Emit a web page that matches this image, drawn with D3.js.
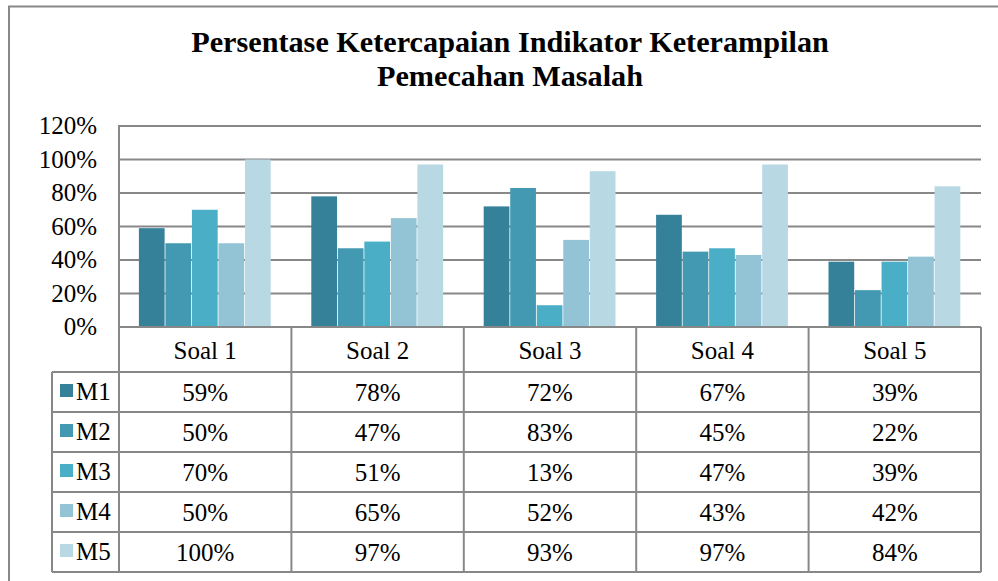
<!DOCTYPE html>
<html><head><meta charset="utf-8">
<script src="https://cdn.jsdelivr.net/npm/d3@7"></script>
<style>body{margin:0;background:#fff}svg{display:block}text{font-family:"Liberation Serif",Tinos,serif}</style>
</head><body>
<svg id="c" width="998" height="581"></svg>
<script>
const categories = ["Soal 1","Soal 2","Soal 3","Soal 4","Soal 5"];
const seriesNames = ["M1","M2","M3","M4","M5"];
const M1 = [59,78,72,67,39];
const M2 = [50,47,83,45,22];
const M3 = [70,51,13,47,39];
const M4 = [50,65,52,43,42];
const M5 = [100,97,93,97,84];
const yTicks = [0,20,40,60,80,100,120];
const titleLines = ["Persentase Ketercapaian Indikator Keterampilan","Pemecahan Masalah"];
const colors = ["#35819A","#4299B1","#4BAEC7","#93C4D6","#B8D8E4"];
const series = [M1,M2,M3,M4,M5];

(function(){
const svg = d3.select("#c");
const font = "Liberation Serif, Tinos, serif";
const gridC = "#888";
const fs = 25;

svg.append("rect").attr("x",9).attr("y",6.5).attr("width",1100).attr("height",700)
  .attr("fill","none").attr("stroke","#888").attr("stroke-width",2);

const tt = svg.append("g").selectAll("text").data(titleLines).join("text")
  .attr("x",510).attr("y",(d,i)=>52+i*34).attr("text-anchor","middle")
  .style("font-family",font).attr("font-weight","bold").attr("font-size",27)
  .text(d=>d);
const tlen = tt.nodes()[0].getComputedTextLength();
tt.attr("font-size", 27*638/tlen);

const pLeft=119, pRight=981, pTop=126, pBottom=327;
const x = d3.scaleBand().domain(categories).range([pLeft,pRight]);
const y = d3.scaleLinear().domain([0,120]).range([pBottom,pTop]);
const bw = x.bandwidth()/6.5;
const off = 0.75*bw;

svg.append("g").selectAll("line").data(yTicks.filter(t=>t>0)).join("line")
  .attr("x1",pLeft).attr("x2",pRight).attr("y1",d=>y(d)).attr("y2",d=>y(d))
  .attr("stroke",gridC).attr("stroke-width",2);
svg.append("line").attr("x1",pLeft).attr("x2",pLeft).attr("y1",pTop-1).attr("y2",pBottom)
  .attr("stroke",gridC).attr("stroke-width",2);

series.forEach((s,si)=>{
  svg.append("g").selectAll("rect").data(s).join("rect")
    .attr("x",(d,i)=>x(categories[i])+off+si*bw)
    .attr("width",bw-0.8)
    .attr("y",d=>y(d)).attr("height",d=>y(0)-y(d))
    .attr("fill",colors[si]);
});

svg.append("g").selectAll("text").data(yTicks).join("text")
  .attr("x",97).attr("y",d=>y(d)+8).attr("text-anchor","end")
  .style("font-family",font).attr("font-size",fs).text(d=>d+"%");

const rowTop = 372, rowH = 40, tableLeft = 52;
const lineAttrs = sel=>sel.attr("stroke",gridC).attr("stroke-width",2);
lineAttrs(svg.append("line").attr("x1",pLeft).attr("x2",pRight).attr("y1",pBottom).attr("y2",pBottom));
const bounds = categories.map(c=>x(c)).concat([pRight]);
bounds.forEach(b=>{
  lineAttrs(svg.append("line").attr("x1",b).attr("x2",b).attr("y1",pBottom).attr("y2",rowTop+rowH*5));
});
for(let r=0;r<=5;r++){
  lineAttrs(svg.append("line").attr("x1",tableLeft).attr("x2",pRight).attr("y1",rowTop+r*rowH).attr("y2",rowTop+r*rowH));
}
lineAttrs(svg.append("line").attr("x1",tableLeft).attr("x2",tableLeft).attr("y1",rowTop).attr("y2",rowTop+rowH*5));

svg.append("g").selectAll("text").data(categories).join("text")
  .attr("x",d=>x(d)+x.bandwidth()/2).attr("y",359).attr("text-anchor","middle")
  .style("font-family",font).attr("font-size",fs).text(d=>d);

seriesNames.forEach((n,si)=>{
  const ry = rowTop + si*rowH;
  svg.append("rect").attr("x",60).attr("y",ry+12).attr("width",13).attr("height",13).attr("fill",colors[si]);
  svg.append("text").attr("x",76).attr("y",ry+28).style("font-family",font).attr("font-size",fs).text(n);
  svg.append("g").selectAll("text").data(series[si]).join("text")
    .attr("x",(d,i)=>x(categories[i])+x.bandwidth()/2).attr("y",ry+29).attr("text-anchor","middle")
    .style("font-family",font).attr("font-size",fs).text(d=>d+"%");
});
})();
</script>
</body></html>
